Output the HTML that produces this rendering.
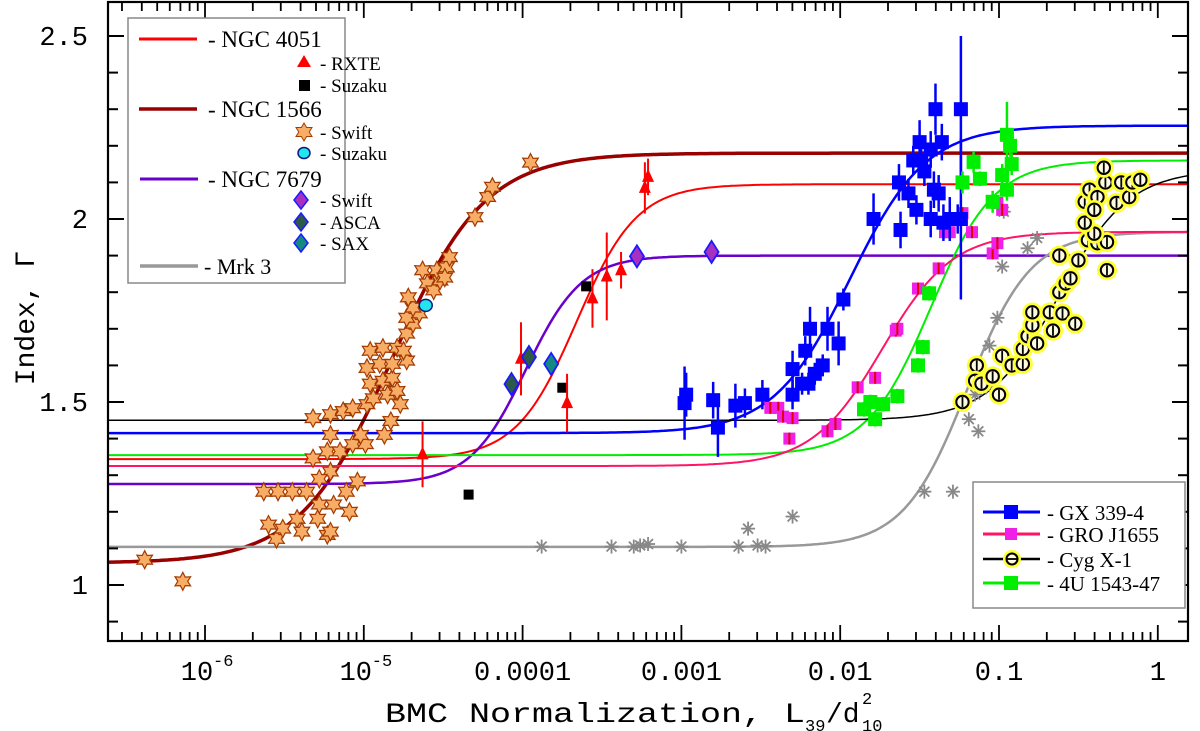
<!DOCTYPE html>
<html><head><meta charset="utf-8"><style>
html,body{margin:0;padding:0;background:#fff;}
svg{display:block;}
text{font-family:"Liberation Mono","DejaVu Sans Mono",monospace;fill:#000;}
.lg{font-family:"Liberation Serif",serif;}
</style></head><body>
<svg id="chart" width="1200" height="731" viewBox="0 0 1200 731" xmlns="http://www.w3.org/2000/svg">
<g id="curves"></g>
<g id="points"></g>
<g id="axes"></g>
<g id="legends"></g>
</svg>
<script>
const yTicks = [1, 1.5, 2, 2.5];
const yTickLabels = ["1", "1.5", "2", "2.5"];
const xDecades = [-6, -5, -4, -3, -2, -1, 0];
const xTickLabels = ["10", "10", "0.0001", "0.001", "0.01", "0.1", "1"];
const xTickSup = ["-6", "-5", "", "", "", "", ""];

const curveNames = ["ngc1566", "ngc4051", "ngc7679", "mrk3", "gx339", "gro1655", "cygx1", "u1543"];
const curveLow = [1.06, 1.344, 1.276, 1.104, 1.415, 1.325, 1.45, 1.355];
const curveHigh = [2.18, 2.095, 1.90, 1.965, 2.255, 1.965, 2.135, 2.16];
const curveCenter = [-4.82, -3.66, -3.98, -1.2, -1.94, -1.735, -0.62, -1.43];
const curveWidth = [0.29, 0.19, 0.176, 0.2, 0.24, 0.221, 0.22, 0.2];
const curveColors = ["#990000", "#ff0000", "#6a00cc", "#999999", "#0000ff", "#ff1466", "#000000", "#00ee00"];
const curveStroke = [3.5, 2, 2.5, 2.5, 2.5, 2, 1.5, 2];

const n1566SwiftX = [-6.38,-6.14,-5.63,-5.54,-5.45,-5.36,-5.60,-5.55,-5.51,-5.42,-5.39,-5.29,-5.23,-5.21,-5.28,-5.19,-5.11,-5.09,-5.04,-5.21,-5.28,-5.32,-5.23,-5.15,-5.07,-4.99,-5.21,-5.02,-4.87,-5.32,-5.21,-5.13,-5.07,-4.98,-4.83,-4.94,-4.85,-4.77,-4.79,-4.96,-4.88,-4.82,-4.98,-4.90,-4.82,-4.73,-4.96,-4.88,-4.79,-4.75,-4.73,-4.69,-4.73,-4.65,-4.69,-4.72,-4.63,-4.60,-4.56,-4.52,-4.54,-4.48,-4.46,-4.49,-4.30,-4.22,-4.19,-3.95];
const n1566SwiftG = [1.069,1.01,1.255,1.255,1.255,1.255,1.165,1.126,1.154,1.181,1.146,1.181,1.137,1.146,1.22,1.22,1.255,1.20,1.283,1.31,1.29,1.346,1.365,1.365,1.385,1.385,1.41,1.41,1.41,1.456,1.467,1.475,1.483,1.494,1.448,1.51,1.52,1.494,1.53,1.55,1.558,1.566,1.593,1.604,1.604,1.613,1.64,1.648,1.648,1.64,1.687,1.714,1.73,1.742,1.758,1.786,1.86,1.824,1.805,1.832,1.86,1.868,1.896,1.84,2.005,2.06,2.088,2.154];
const n1566SuzakuX = [-4.61];
const n1566SuzakuG = [1.764];

const n4051RxteX = [-4.01,-3.72,-3.56,-3.47,-3.38,-3.23,-3.21,-4.63];
const n4051RxteG = [1.618,1.497,1.783,1.843,1.86,2.085,2.115,1.357];
const n4051RxteErr = [0.10,0.08,0.08,0.12,0.05,0.07,0.05,0.09];
const n4051SuzakuX = [-3.60,-3.75,-4.34];
const n4051SuzakuG = [1.816,1.539,1.247];

const n7679SwiftX = [-3.28,-2.81];
const n7679SwiftG = [1.898,1.91];
const n7679AscaX = [-4.07,-3.96];
const n7679AscaG = [1.549,1.623];
const n7679SaxX = [-3.82];
const n7679SaxG = [1.604];

const mrk3X = [-3.88,-3.44,-3.30,-3.26,-3.21,-3.0,-2.64,-2.52,-2.47,-2.58,-2.30,-1.47,-1.29,-1.13,-1.19,-1.15,-1.08,-1.06,-1.01,-0.82,-0.76,-0.98,-0.97,-1.23];
const mrk3G = [1.105,1.105,1.105,1.108,1.112,1.105,1.105,1.108,1.105,1.154,1.187,1.255,1.255,1.42,1.453,1.52,1.54,1.654,1.73,1.92,1.948,1.87,2.02,1.50];

const gxX = [-2.98,-2.97,-2.80,-2.77,-2.66,-2.60,-2.49,-2.30,-2.30,-2.24,-2.20,-2.22,-2.19,-2.16,-2.11,-2.08,-2.01,-1.98,-1.79,-1.62,-1.63,-1.57,-1.52,-1.50,-1.49,-1.47,-1.43,-1.40,-1.41,-1.43,-1.38,-1.36,-1.35,-1.31,-1.26,-1.24,-1.24,-1.54];
const gxG = [1.497,1.52,1.505,1.43,1.49,1.497,1.52,1.52,1.59,1.55,1.55,1.64,1.70,1.577,1.60,1.70,1.66,1.78,2.0,1.97,2.10,2.07,2.025,2.21,2.16,2.13,2.19,2.30,2.08,2.0,2.07,2.21,1.99,2.0,2.0,2.30,2.0,2.16];
const gxErr = [0.1,0.06,0.05,0.08,0.06,0.04,0.04,0.04,0.05,0.03,0.03,0.04,0.06,0.03,0.03,0.06,0.06,0.03,0.07,0.05,0.05,0.04,0.04,0.06,0.04,0.04,0.05,0.07,0.05,0.05,0.05,0.05,0.05,0.06,0.04,0.2,0.22,0.04];

const groX = [-2.44,-2.39,-2.36,-2.30,-2.32,-2.08,-2.03,-1.89,-1.78,-1.65,-1.64,-1.51,-1.38,-1.34,-1.31,-1.23,-1.17,-1.04,-1.01,-1.01,-0.98];
const groG = [1.484,1.484,1.46,1.456,1.40,1.42,1.44,1.54,1.566,1.695,1.70,1.81,1.865,1.964,1.964,2.016,1.964,1.906,1.934,2.044,2.025];

const cygX = [-1.23,-1.14,-1.15,-1.11,-1.04,-1.0,-0.98,-0.92,-0.85,-0.85,-0.82,-0.79,-0.79,-0.76,-0.68,-0.66,-0.60,-0.52,-0.62,-0.58,-0.55,-0.62,-0.50,-0.44,-0.38,-0.32,-0.32,-0.40,-0.46,-0.46,-0.43,-0.38,-0.33,-0.34,-0.40,-0.26,-0.23,-0.18,-0.16,-0.11];
const cygG = [1.50,1.60,1.558,1.55,1.57,1.52,1.626,1.60,1.604,1.645,1.68,1.71,1.745,1.66,1.745,1.695,1.742,1.714,1.80,1.824,1.838,1.90,1.887,1.942,1.934,1.937,1.86,1.96,1.99,2.047,2.08,2.06,2.10,2.14,2.025,2.044,2.10,2.06,2.10,2.107];

const u1543X = [-1.81,-1.78,-1.73,-1.64,-1.51,-1.48,-1.44,-1.23,-1.16,-1.12,-1.04,-0.98,-0.95,-0.93,-0.92,-0.95,-1.85];
const u1543G = [1.50,1.453,1.494,1.516,1.60,1.65,1.797,2.10,2.156,2.11,2.047,2.12,2.23,2.20,2.15,2.08,1.48];
const u1543Err = [0.02,0.02,0.02,0.02,0.02,0.02,0.02,0.03,0.03,0.02,0.03,0.03,0.09,0.03,0.03,0.03,0.02];

const X0 = 108, X1 = 1188, Y0 = 2, Y1 = 641;
function px(lx){ return 205 + (lx + 6) * 158.8; }
function py(g){ return 585 - (g - 1) * 366; }
const LXMIN = (X0 - 205) / 158.8 - 6, LXMAX = (X1 - 205) / 158.8 - 6;
const NS = "http://www.w3.org/2000/svg";
function el(tag, attrs, parent){
  const e = document.createElementNS(NS, tag);
  for (const k in attrs) e.setAttribute(k, attrs[k]);
  parent.appendChild(e);
  return e;
}
const gC = document.getElementById('curves');
const gP = document.getElementById('points');
const gA = document.getElementById('axes');

const defs = el('defs', {}, document.getElementById('chart'));
const cp = el('clipPath', {id:'clip'}, defs);
el('rect', {x:X0, y:Y0, width:X1-X0, height:Y1-Y0}, cp);
gC.setAttribute('clip-path', 'url(#clip)');

const curveOrder = [1, 0, 2, 3, 7, 5, 4, 6];
curveOrder.forEach(function(i){
  let d = "";
  for (let s = 0; s <= 400; s++) {
    const lx = LXMIN + (LXMAX - LXMIN) * s / 400;
    const g = curveLow[i] + (curveHigh[i] - curveLow[i]) / (1 + Math.exp(-(lx - curveCenter[i]) / curveWidth[i]));
    d += (s ? "L" : "M") + px(lx).toFixed(1) + " " + py(g).toFixed(1);
  }
  const p = el('path', {d:d, fill:'none', stroke:curveColors[i], 'stroke-width':curveStroke[i]}, gC);
  
  
});

function star(cx, cy, r, parent){
  let d = "";
  for (let k = 0; k < 12; k++) {
    const a = -Math.PI/2 + k * Math.PI / 6;
    const rr = k % 2 ? r * 0.55 : r;
    d += (k ? "L" : "M") + (cx + rr*Math.cos(a)).toFixed(1) + " " + (cy + rr*Math.sin(a)).toFixed(1);
  }
  return el('path', {d:d+"Z", fill:'#f7ad66', stroke:'#a33a00', 'stroke-width':1.2}, parent);
}
function diamond(cx, cy, fill, parent){
  return el('path', {d:`M${cx} ${cy-11}L${cx+7} ${cy}L${cx} ${cy+11}L${cx-7} ${cy}Z`, fill:fill, stroke:'#1a1aff', 'stroke-width':1.8}, parent);
}
function errbar(cx, cy, h, color, w, parent){
  return el('line', {x1:cx, x2:cx, y1:cy-h, y2:cy+h, stroke:color, 'stroke-width':w}, parent);
}
function square(cx, cy, s, fill, parent){
  return el('rect', {x:cx-s/2, y:cy-s/2, width:s, height:s, fill:fill}, parent);
}
function triangle(cx, cy, parent){
  return el('path', {d:`M${cx} ${cy-8}L${cx+6} ${cy+5}L${cx-6} ${cy+5}Z`, fill:'#ff0000'}, parent);
}
function cyg(cx, cy, parent){
  const g = el('g', {}, parent);
  el('circle', {cx:cx, cy:cy, r:10, fill:'#ffff33'}, g);
  el('circle', {cx:cx, cy:cy, r:6.2, fill:'#fffbe0', stroke:'#000', 'stroke-width':2}, g);
  el('line', {x1:cx, x2:cx, y1:cy-5, y2:cy+5, stroke:'#000', 'stroke-width':1.8}, g);
  return g;
}
function asterisk(cx, cy, parent){
  const g = el('g', {stroke:'#888', 'stroke-width':1.8}, parent);
  for (let k = 0; k < 4; k++) {
    const a = k * Math.PI / 4;
    el('line', {x1:cx-7*Math.cos(a), y1:cy-7*Math.sin(a), x2:cx+7*Math.cos(a), y2:cy+7*Math.sin(a)}, g);
  }
  return g;
}

const gMrk = el('g', {}, gP);


mrk3X.forEach(function(x, i){ asterisk(px(x), py(mrk3G[i]), gMrk); });

const gGro = el('g', {}, gP);


groX.forEach(function(x, i){
  square(px(x), py(groG[i]), 12, '#f020e8', gGro);
  errbar(px(x), py(groG[i]), 6, '#e00000', 2, gGro);
});

const gGx = el('g', {}, gP);


gxX.forEach(function(x, i){
  errbar(px(x), py(gxG[i]), gxErr[i]*366, '#0000ff', 2.5, gGx);
  square(px(x), py(gxG[i]), 14, '#0000ff', gGx);
});

const gU = el('g', {}, gP);


u1543X.forEach(function(x, i){
  errbar(px(x), py(u1543G[i]), u1543Err[i]*366, '#00ee00', 2.5, gU);
  square(px(x), py(u1543G[i]), 14, '#00ee00', gU);
});

const gCyg = el('g', {}, gP);


cygX.forEach(function(x, i){ cyg(px(x), py(cygG[i]), gCyg); });

const gStar = el('g', {}, gP);


n1566SwiftX.forEach(function(x, i){ star(px(x), py(n1566SwiftG[i]), 9, gStar); });
n1566SuzakuX.forEach(function(x, i){
  const c = el('ellipse', {cx:px(x), cy:py(n1566SuzakuG[i]), rx:6.5, ry:6, fill:'#22e5ee', stroke:'#0a1a80', 'stroke-width':1.5}, gP);
  
  
});

const g4051 = el('g', {}, gP);


n4051SuzakuX.forEach(function(x, i){ square(px(x), py(n4051SuzakuG[i]), 10, '#000', g4051); });
n4051RxteX.forEach(function(x, i){
  errbar(px(x), py(n4051RxteG[i]), n4051RxteErr[i]*366, '#ff0000', 2, g4051);
  triangle(px(x), py(n4051RxteG[i]), g4051);
});

const g7679 = el('g', {}, gP);


n7679AscaX.forEach(function(x, i){ diamond(px(x), py(n7679AscaG[i]), '#2d5a48', g7679); });
n7679SaxX.forEach(function(x, i){ diamond(px(x), py(n7679SaxG[i]), '#138a80', g7679); });
n7679SwiftX.forEach(function(x, i){ diamond(px(x), py(n7679SwiftG[i]), '#a830c0', g7679); });

const frame = el('rect', {x:X0, y:Y0, width:X1-X0, height:Y1-Y0, fill:'none', stroke:'#000', 'stroke-width':2.2}, gA);


for (let v = 9; v <= 25; v++) {
  const g = v / 10, y = py(g);
  if (y < Y0 || y > Y1) continue;
  const major = v % 5 === 0, L = major ? 16 : 10;
  el('line', {x1:X0, x2:X0+L, y1:y, y2:y, stroke:'#000', 'stroke-width':2}, gA);
  el('line', {x1:X1, x2:X1-L, y1:y, y2:y, stroke:'#000', 'stroke-width':2}, gA);
}
yTicks.forEach(function(g, i){
  const t = el('text', {x:88, y:py(g)+9, 'text-anchor':'end', 'font-size':27}, gA);
  t.textContent = yTickLabels[i];
  
  
});
for (let d = -7; d <= 0; d++) {
  for (let m = 1; m <= 9; m++) {
    const x = px(d + Math.log10(m));
    if (x < X0 || x > X1) continue;
    const L = m === 1 ? 16 : 9;
    el('line', {x1:x, x2:x, y1:Y1, y2:Y1-L, stroke:'#000', 'stroke-width':1.8}, gA);
    el('line', {x1:x, x2:x, y1:Y0, y2:Y0+L, stroke:'#000', 'stroke-width':1.8}, gA);
  }
}
xDecades.forEach(function(d, i){
  const x = px(d);
  const t = el('text', {x: xTickSup[i] ? x - 8 : x, y:680, 'text-anchor':'middle', 'font-size':27}, gA);
  t.textContent = xTickLabels[i];
  
  
  if (xTickSup[i]) {
    const s = el('text', {x:x+8, y:666, 'font-size':17}, gA);
    s.textContent = xTickSup[i];
    
    
  }
});
</script>
<svg style="position:absolute;left:0;top:0" width="1200" height="731" viewBox="0 0 1200 731" xmlns="http://www.w3.org/2000/svg">
  <text x="0" y="0" transform="translate(34,318) rotate(-90)" text-anchor="middle" font-size="28">Index, Γ</text>
  <g>
    <text x="385" y="722" font-size="28" textLength="420" lengthAdjust="spacingAndGlyphs">BMC Normalization, L</text>
    <text x="805" y="731" font-size="17">39</text>
    <text x="826" y="722" font-size="28">/d</text>
    <text x="862" y="704" font-size="17">2</text>
    <text x="862" y="731" font-size="17">10</text>
  </g>
  <g>
    <rect x="128" y="18" width="217" height="265" fill="#fff" stroke="#888" stroke-width="1.5"/>
    <line x1="139" x2="197" y1="39" y2="39" stroke="#ff0000" stroke-width="3"/>
    <text class="lg" x="208" y="47" font-size="23">-  NGC 4051</text>
    <path d="M304 55L311 67L297 67Z" fill="#ff0000"/>
    <text class="lg" x="320" y="70" font-size="19">- RXTE</text>
    <rect x="299" y="80" width="11" height="11" fill="#000"/>
    <text class="lg" x="320" y="92" font-size="19">- Suzaku</text>
    <line x1="139" x2="197" y1="109" y2="109" stroke="#990000" stroke-width="3.5"/>
    <text class="lg" x="208" y="117" font-size="23">-  NGC 1566</text>
    <path d="M304 123L306.6 127.5L312 127.5L309.2 132L312 136.5L306.6 136.5L304 141L301.4 136.5L296 136.5L298.8 132L296 127.5L301.4 127.5Z" fill="#f7ad66" stroke="#a33a00"/>
    <text class="lg" x="320" y="139" font-size="19">- Swift</text>
    <ellipse cx="304" cy="153" rx="6" ry="5.5" fill="#22e5ee" stroke="#0a1a80" stroke-width="1.5"/>
    <text class="lg" x="320" y="160" font-size="19">- Suzaku</text>
    <line x1="140" x2="198" y1="179" y2="179" stroke="#6a00cc" stroke-width="3"/>
    <text class="lg" x="208" y="187" font-size="23">-  NGC 7679</text>
    <path d="M301 191L308 200L301 209L294 200Z" fill="#a830c0" stroke="#1a1aff" stroke-width="1.5"/>
    <text class="lg" x="320" y="207" font-size="19">- Swift</text>
    <path d="M301 213L308 222L301 231L294 222Z" fill="#2d5a48" stroke="#1a1aff" stroke-width="1.5"/>
    <text class="lg" x="320" y="229" font-size="19">- ASCA</text>
    <path d="M301 234L308 243L301 252L294 243Z" fill="#138a80" stroke="#1a1aff" stroke-width="1.5"/>
    <text class="lg" x="320" y="250" font-size="19">- SAX</text>
    <line x1="140" x2="198" y1="266" y2="266" stroke="#999" stroke-width="3.5"/>
    <text class="lg" x="204" y="274" font-size="22">- Mrk 3</text>
  </g>
  <g>
    <rect x="973" y="482" width="212" height="126" fill="#fff" stroke="#888" stroke-width="1.5"/>
    <line x1="983" x2="1040" y1="512" y2="512" stroke="#0000ff" stroke-width="3"/>
    <rect x="1004" y="505" width="14" height="14" fill="#0000ff"/>
    <text class="lg" x="1047" y="520" font-size="21">- GX 339-4</text>
    <line x1="983" x2="1040" y1="534" y2="534" stroke="#ff1466" stroke-width="3"/>
    <rect x="1005" y="528" width="12" height="12" fill="#f020e8"/>
    <text class="lg" x="1047" y="542" font-size="21">- GRO J1655</text>
    <line x1="983" x2="1040" y1="559" y2="559" stroke="#000" stroke-width="2.5"/>
    <circle cx="1012" cy="559" r="9" fill="#ffff33"/>
    <circle cx="1012" cy="559" r="5.5" fill="#fffbe0" stroke="#000" stroke-width="2"/>
    <line x1="1007" x2="1017" y1="559" y2="559" stroke="#000" stroke-width="1.8"/>
    <text class="lg" x="1047" y="567" font-size="21">- Cyg X-1</text>
    <line x1="983" x2="1040" y1="583" y2="583" stroke="#00ee00" stroke-width="3"/>
    <rect x="1004" y="576" width="14" height="14" fill="#00ee00"/>
    <text class="lg" x="1047" y="591" font-size="21">- 4U 1543-47</text>
  </g>
</svg>
</body></html>
